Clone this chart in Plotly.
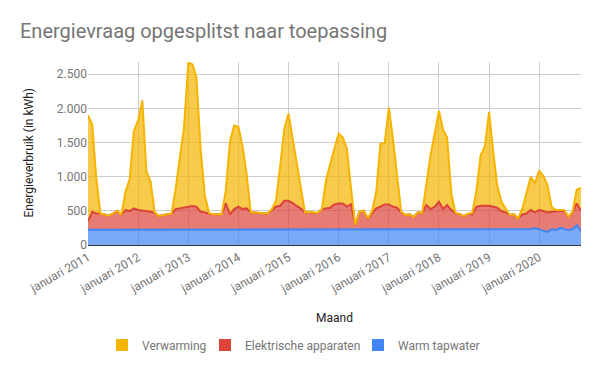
import pandas as pd
import plotly.graph_objects as go

# Monthly dates Jan 2011 .. Nov 2020
months = pd.date_range("2011-01-01", "2020-11-01", freq="MS")

# Stacked totals (kWh)
total_top = [1900, 1764, 1000, 463, 448, 429, 458, 502, 439, 780, 965, 1667,
             1827, 2120, 1082, 926, 475, 424, 439, 448, 458, 828, 1315, 1730,
             2670, 2645, 2450, 1390, 730, 465, 453, 448, 448, 800, 1520, 1750,
             1730, 1437, 1048, 478, 473, 468, 473, 463, 526, 640, 1150, 1700,
             1925, 1560, 1200, 830, 475, 487, 473, 468, 526, 950, 1190, 1410,
             1632, 1574, 1413, 820, 292, 487, 502, 390, 497, 780, 1486, 1486,
             2010, 1535, 1072, 487, 439, 448, 409, 478, 470, 877, 1316, 1632,
             1965, 1681, 1580, 760, 470, 453, 424, 458, 470, 800, 1316, 1438,
             1950, 1364, 877, 633, 536, 439, 448, 390, 536, 780, 1000, 900,
             1090, 1010, 880, 560, 512, 512, 512, 414, 487, 810, 835]
total_mid = [345, 487, 463, 463, 448, 429, 458, 502, 439, 512, 497, 536,
             512, 507, 502, 487, 470, 424, 439, 448, 458, 526, 536, 555,
             560, 570, 560, 487, 478, 458, 453, 448, 448, 609, 448, 526,
             560, 526, 536, 478, 473, 468, 473, 463, 512, 560, 575, 648,
             648, 615, 572, 533, 475, 487, 473, 468, 526, 536, 546, 594,
             609, 609, 560, 600, 292, 487, 502, 390, 463, 536, 560, 594,
             594, 560, 546, 480, 439, 448, 409, 478, 468, 585, 526, 560,
             633, 526, 585, 512, 463, 453, 424, 458, 448, 560, 575, 575,
             575, 560, 546, 497, 478, 439, 448, 390, 448, 463, 512, 478,
             512, 497, 478, 487, 497, 497, 497, 414, 478, 609, 497]
warm_tapwater = [225] * 106 + [230, 249, 230, 210, 191, 230, 220, 249, 240,
                               215, 230, 288, 201]

elektrische = [m - w for m, w in zip(total_mid, warm_tapwater)]
verwarming = [max(t - m, 0) for t, m in zip(total_top, total_mid)]

series_names = ["Warm tapwater", "Elektrische apparaten", "Verwarming"]
series_values = [warm_tapwater, elektrische, verwarming]
line_colors = ["#4285F4", "#DB4437", "#F4B400"]
fill_colors = ["rgba(66,133,244,0.7)", "rgba(219,68,55,0.7)", "rgba(244,180,0,0.7)"]

tick_years = list(range(2011, 2021))
tick_vals = [f"{y}-01-01" for y in tick_years]
tick_text = [f"januari {y}" for y in tick_years]
y_ticks = [0, 500, 1000, 1500, 2000, 2500]

L, R, T, B = 88, 19, 62, 126
W, H = 600, 371
PW, PH = W - L - R, H - T - B

fig = go.Figure()
for name, vals, lc, fc in zip(series_names, series_values, line_colors, fill_colors):
    fig.add_trace(go.Scatter(
        x=months, y=vals, name=name, mode="lines", stackgroup="one",
        line=dict(color=lc, width=2), fillcolor=fc, showlegend=False,
        hoverinfo="x+y+name"))

# legend entries as squares, each in its own legend for exact placement
legend_px = [102, 205, 358]
legend_ids = ["legend", "legend2", "legend3"]
for name, lc, lid in zip(series_names[::-1], line_colors[::-1], legend_ids):
    fig.add_trace(go.Scatter(
        x=[None], y=[None], name=name, mode="markers", legend=lid,
        marker=dict(symbol="square", size=12, color=lc), showlegend=True))

legend_common = dict(orientation="h", xanchor="left", yanchor="middle",
                     y=(T + PH - 345) / PH, bgcolor="rgba(0,0,0,0)",
                     font=dict(size=12, color="#757575"), itemwidth=30)
legends = {}
for lid, px in zip(legend_ids, legend_px):
    legends[lid] = dict(legend_common, x=(px - L) / PW)

fig.update_layout(
    width=W, height=H,
    margin=dict(l=L, r=R, t=T, b=B),
    paper_bgcolor="white", plot_bgcolor="white",
    separators=",.",
    font=dict(family="Roboto", size=12, color="#757575"),
    title=dict(text="Energievraag opgesplitst naar toepassing",
               x=20 / W, xanchor="left", xref="container",
               y=1 - 31 / H, yanchor="middle", yref="container",
               font=dict(family="Roboto", size=20, color="#757575")),
    showlegend=True,
    **legends,
    xaxis=dict(type="date", range=["2011-01-01", "2020-11-01"],
               tickmode="array", tickvals=tick_vals, ticktext=tick_text,
               tickangle=-30, showgrid=True, gridcolor="#cccccc",
               showline=True, linecolor="#333333", linewidth=1,
               ticks="", zeroline=False, automargin=False,
               tickfont=dict(size=12, color="#757575")),
    yaxis=dict(range=[0, 2680], tickvals=y_ticks,
               tickformat=",d", showgrid=True, gridcolor="#cccccc",
               zeroline=False, showline=False, ticks="", automargin=False,
               tickfont=dict(size=12, color="#757575")),
    annotations=[
        dict(text="Maand", xref="paper", yref="paper", x=0.5,
             y=(T + PH - 318) / PH, xanchor="center", yanchor="middle",
             showarrow=False, font=dict(size=12, color="#222222")),
        dict(text="Energieverbruik (in kWh)", xref="paper", yref="paper",
             x=(28 - L) / PW, y=0.5, xanchor="center", yanchor="middle",
             textangle=-90, showarrow=False,
             font=dict(size=12, color="#222222")),
    ],
)

fig.write_html("out.html", config={"displayModeBar": False},
               post_script="document.body.style.margin='0';")
